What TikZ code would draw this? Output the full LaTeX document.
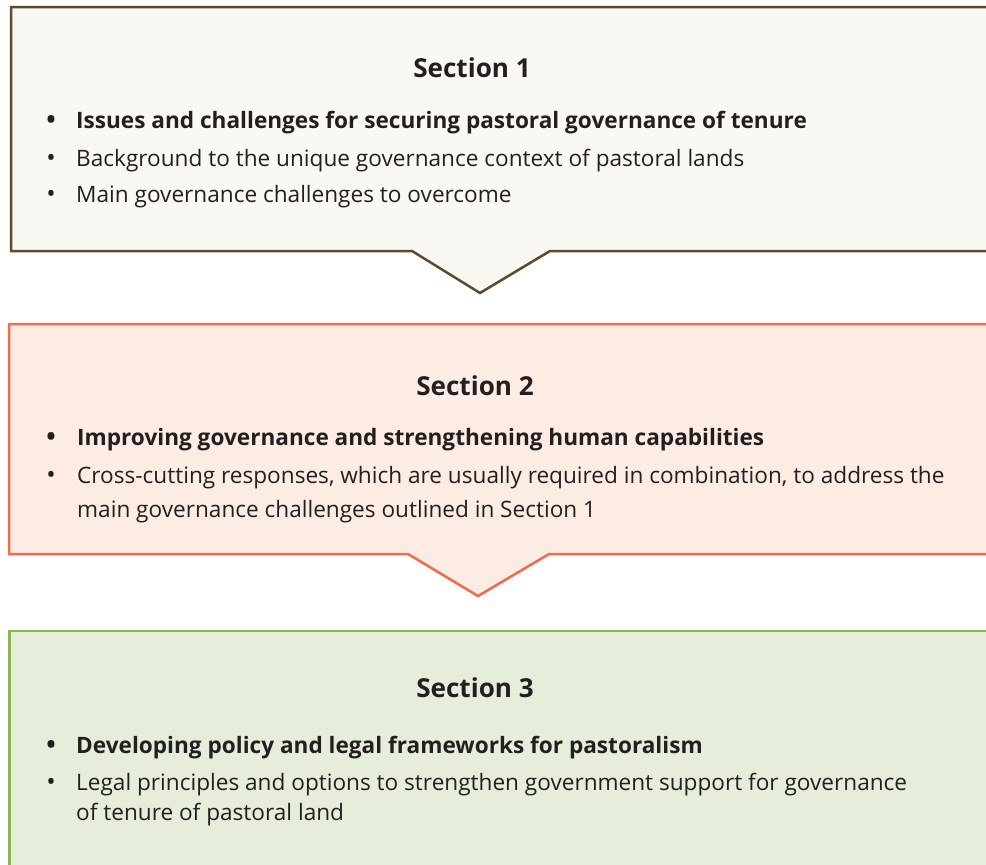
\documentclass[tikz,border=0pt]{standalone}
\usepackage{fontspec}
\setmainfont{Open Sans}
\definecolor{txt}{HTML}{231F20}
\definecolor{oneline}{HTML}{5E4B2E}
\definecolor{onefill}{HTML}{FAF8F2}
\definecolor{twoline}{HTML}{F26B50}
\definecolor{twofill}{HTML}{FCECE4}
\definecolor{threeline}{HTML}{8AB550}
\definecolor{threefill}{HTML}{E6EDDB}
\tikzset{
  panel/.style={line width=2.5pt, line join=miter},
  title/.style={anchor=base, font=\fontsize{26.1}{30}\selectfont\bfseries, text=txt, inner sep=0pt},
  item/.style={anchor=base west, font=\fontsize{22.6}{30}\selectfont, text=txt, inner sep=0pt, align=left},
  bullet/.style={anchor=base, font=\fontsize{25}{30}\selectfont, text=txt, inner sep=0pt},
}
\begin{document}
\begin{tikzpicture}[x=1pt,y=-1pt]
\useasboundingbox (0,0) rectangle (986,865);
\clip (0,0) rectangle (986,865);
\fill[white] (0,0) rectangle (986,865);
% panels
\draw[panel, draw=oneline, fill=onefill] (11,7) -- (995,7) -- (995,251) -- (550,251) -- (480,293) -- (412,251) -- (11,251) -- cycle;
\draw[panel, draw=twoline, fill=twofill] (9,324) -- (995,324) -- (995,554) -- (549,554) -- (478,596) -- (408,554) -- (9,554) -- cycle;
\draw[panel, draw=threeline, fill=threefill] (9.5,631) -- (995,631) -- (995,880) -- (9.5,880) -- cycle;
% section 1
\node[title] (t1) at (472,77) {Section 1};
\node[bullet] (b11) at (51,128) {\bfseries •};
\node[item] (i11) at (76,128) {\bfseries Issues and challenges for securing pastoral governance of tenure};
\node[bullet] (b12) at (51,166) {•};
\node[item] (i12) at (76,166) {Background to the unique governance context of pastoral lands};
\node[bullet] (b13) at (51,202) {•};
\node[item] (i13) at (76,202) {Main governance challenges to overcome};
% section 2
\node[title] (t2) at (475,395) {Section 2};
\node[bullet] (b21) at (51,445) {\bfseries •};
\node[item] (i21) at (77,445) {\bfseries Improving governance and strengthening human capabilities};
\node[bullet] (b22) at (51,483) {•};
\node[item] (i22) at (77,483) {Cross-cutting responses, which are usually required in combination, to address the};
\node[item] (i22b) at (77,517) {main governance challenges outlined in Section 1};
% section 3
\node[title] (t3) at (475,697) {Section 3};
\node[bullet] (b31) at (51,753) {\bfseries •};
\node[item] (i31) at (76,753) {\bfseries Developing policy and legal frameworks for pastoralism};
\node[bullet] (b32) at (51,790) {•};
\node[item] (i32) at (76,790) {Legal principles and options to strengthen government support for governance};
\node[item] (i32b) at (76,820) {of tenure of pastoral land};
\end{tikzpicture}
\end{document}
